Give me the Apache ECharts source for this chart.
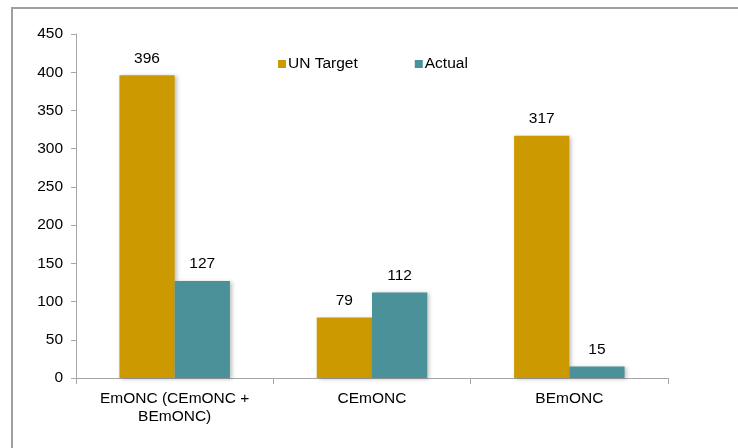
<!DOCTYPE html>
<html>
<head>
<meta charset="utf-8">
<script src="https://cdn.jsdelivr.net/npm/echarts@6/dist/echarts.min.js"></script>
<style>
  html, body { margin: 0; padding: 0; background: #fff; overflow: hidden; }
  #frame { position: absolute; left: 11px; top: 7px; width: 800px; height: 500px;
           border-top: 2px solid #a0a0a0; border-left: 2px solid #a0a0a0; }
  #chart { position: absolute; left: 0; top: 0; width: 738px; height: 448px; }
</style>
</head>
<body>
<div id="frame"></div>
<div id="chart"></div>
<script>
// chart data
const categories = ['EmONC (CEmONC +\nBEmONC)', 'CEmONC', 'BEmONC'];
const unTarget = [396, 79, 317];
const actual = [127, 112, 15];
const seriesNames = ['UN Target', 'Actual'];

const font = 'Liberation Sans, Arial, sans-serif';
const fontSize = 15.5;
const colors = ['#CC9900', '#4B9199'];

let myChart = echarts.init(document.getElementById('chart'));

function barSeries(name, data, color) {
    return {
        name: name,
        type: 'bar',
        data: data,
        barGap: '0%',
        barCategoryGap: '44%',
        itemStyle: {
            color: color,
            shadowColor: 'rgba(0,0,0,0.25)',
            shadowBlur: 4,
            shadowOffsetX: 2,
            shadowOffsetY: 1
        },
        label: {
            show: true,
            position: 'top',
            distance: 9,
            color: '#000',
            fontFamily: font,
            fontSize: fontSize
        }
    };
}

let option = {
    animation: false,
    backgroundColor: 'transparent',
    grid: { left: 76, right: 70, top: 34, bottom: 70 },
    legend: {
        data: seriesNames,
        top: 51,
        left: 273,
        itemWidth: 8,
        itemHeight: 8,
        itemGap: 57,
        icon: 'rect',
        textStyle: { fontFamily: font, fontSize: fontSize, color: '#000', padding: [0, 0, 0, -3] }
    },
    xAxis: {
        type: 'category',
        data: categories,
        axisLine: { lineStyle: { color: '#a6a6a6' } },
        axisTick: { show: true, length: 6, lineStyle: { color: '#a6a6a6' } },
        axisLabel: {
            color: '#000',
            fontFamily: font,
            fontSize: fontSize,
            margin: 12,
            lineHeight: 18
        }
    },
    yAxis: {
        type: 'value',
        min: 0,
        max: 450,
        interval: 50,
        splitLine: { show: false },
        axisLine: { show: true, lineStyle: { color: '#a6a6a6' } },
        axisTick: { show: true, length: 5, lineStyle: { color: '#a6a6a6' } },
        axisLabel: { color: '#000', fontFamily: font, fontSize: fontSize, margin: 13 }
    },
    series: [
        barSeries(seriesNames[0], unTarget, colors[0]),
        barSeries(seriesNames[1], actual, colors[1])
    ]
};

myChart.setOption(option);
</script>
</body>
</html>
